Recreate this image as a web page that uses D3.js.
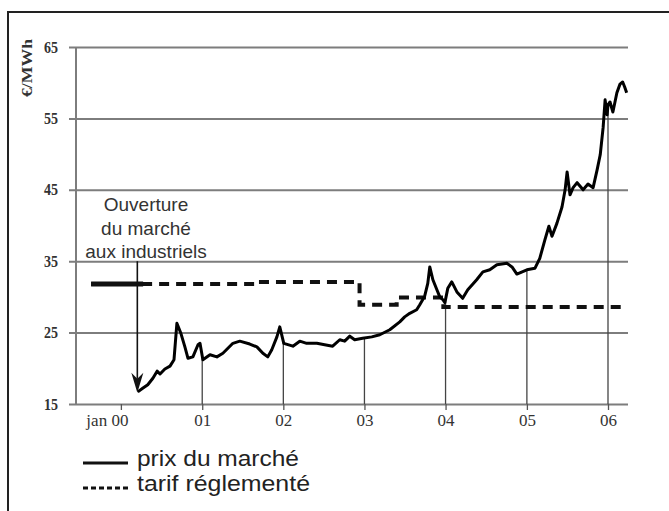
<!DOCTYPE html>
<html>
<head>
<meta charset="utf-8">
<script src="https://cdn.jsdelivr.net/npm/d3@7"></script>
<style>
  body { margin: 0; background: #fff; }
  svg { display: block; }
</style>
</head>
<body>
<script>
// prix du marché (€/MWh)
var priceDates = [
  "2000-03-17","2000-04-08","2000-05-01","2000-05-24","2000-06-12","2000-06-25","2000-07-17","2000-08-09",
  "2000-08-27","2000-09-09","2000-09-27","2000-10-15","2000-10-29","2000-11-20","2000-12-13","2000-12-22",
  "2001-01-04","2001-02-05","2001-03-08","2001-04-04","2001-05-19","2001-06-19","2001-08-03","2001-09-04",
  "2001-10-01","2001-10-23","2001-11-10","2001-12-03","2001-12-16","2002-01-03","2002-02-13","2002-03-16",
  "2002-04-16","2002-06-01","2002-07-06","2002-08-11","2002-09-12","2002-10-04","2002-10-27","2002-11-18",
  "2002-12-24","2003-02-03","2003-03-11","2003-04-25","2003-06-09","2003-07-01","2003-07-24","2003-08-24",
  "2003-09-07","2003-09-29","2003-10-13","2003-10-22","2003-11-05","2003-11-23","2003-12-06","2003-12-20",
  "2003-12-29","2004-01-11","2004-01-29","2004-02-21","2004-03-18","2004-04-10","2004-05-20","2004-06-17",
  "2004-07-18","2004-08-19","2004-10-03","2004-10-26","2004-11-17","2005-01-01","2005-02-06","2005-02-28",
  "2005-03-23","2005-04-10","2005-04-24","2005-05-16","2005-06-08","2005-06-22","2005-07-01","2005-07-14",
  "2005-07-28","2005-08-15","2005-09-11","2005-10-03","2005-10-26","2005-11-13","2005-11-27","2005-12-10",
  "2005-12-19","2005-12-28","2006-01-01","2006-01-10","2006-01-23","2006-02-10","2006-02-24","2006-03-08",
  "2006-03-17","2006-03-26"
];
var priceValues = [
  16.7, 17.2, 17.7, 18.6, 19.6, 19.2, 19.9, 20.3,
  21.2, 26.3, 24.9, 23.0, 21.4, 21.6, 23.3, 23.5,
  21.2, 21.9, 21.6, 22.1, 23.5, 23.8, 23.4, 23.0,
  22.1, 21.6, 22.6, 24.4, 25.8, 23.5, 23.1, 23.8,
  23.5, 23.5, 23.3, 23.1, 24.0, 23.8, 24.5, 24.0,
  24.2, 24.4, 24.7, 25.4, 26.5, 27.2, 27.7, 28.2,
  28.9, 30.1, 31.9, 34.2, 32.4, 31.0, 30.0, 29.6,
  29.2, 31.2, 32.1, 30.7, 29.8, 31.0, 32.4, 33.5,
  33.8, 34.5, 34.7, 34.2, 33.2, 33.8, 34.0, 35.4,
  38.0, 39.9, 38.5, 40.3, 42.6, 45.0, 47.5, 44.3,
  45.3, 46.0, 45.0, 45.8, 45.3, 47.8, 49.9, 53.7,
  57.6, 55.5, 56.9, 57.3, 55.9, 58.6, 59.8, 60.1,
  59.4, 58.6
];

// tarif réglementé (step)
var tariffDates = ["1999-08-20","2001-09-08","2002-12-10","2003-05-26","2003-12-22","2006-03-30"];
var tariffValues = [31.8, 32.1, 28.9, 29.9, 28.6, 28.6];

var yTicks = [15, 25, 35, 45, 55, 65];
var xTickDates = ["2000-01-01","2001-01-01","2002-01-01","2003-01-01","2004-01-01","2005-01-01","2006-01-01"];
var xTickLabels = ["jan 00", "01", "02", "03", "04", "05", "06"];
var legendLabels = ["prix du marché", "tarif réglementé"];
var legendWidths = [162, 173];
var annotationLines = ["Ouverture", "du marché", "aux industriels"];
var openingDate = "2000-03-15";

var parse = d3.timeParse("%Y-%m-%d");

var price = priceDates.map(function(d, i) { return { date: parse(d), v: priceValues[i] }; });
var tariff = tariffDates.map(function(d, i) { return { date: parse(d), v: tariffValues[i] }; });

var svg = d3.select("body").append("svg")
    .attr("width", 669)
    .attr("height", 511);

svg.append("rect").attr("width", 669).attr("height", 511).attr("fill", "#fff");

// frame (cropped on the right and bottom)
svg.append("path")
    .attr("d", "M8,511V12H669")
    .attr("fill", "none")
    .attr("stroke", "#222")
    .attr("stroke-width", 2);

var x = d3.scaleTime()
    .domain([parse("1999-06-13"), parse("2006-04-01")])
    .range([76, 628]);

var y = d3.scaleLinear()
    .domain([15, 65])
    .range([404, 47]);

// horizontal grid + y labels
var yAxis = svg.append("g")
    .attr("transform", "translate(69,0)")
    .call(d3.axisLeft(y).tickValues(yTicks).tickSize(-(628 - 69)).tickPadding(11));
yAxis.select(".domain").remove();
yAxis.selectAll(".tick line")
    .attr("stroke", "#7d7d7d")
    .attr("stroke-width", 2);
yAxis.selectAll(".tick text")
    .attr("font-family", "Liberation Serif, serif")
    .attr("font-size", 16)
    .attr("font-weight", "bold")
    .attr("fill", "#333")
    .attr("textLength", 14)
    .attr("lengthAdjust", "spacingAndGlyphs");

// vertical axis line
svg.append("line")
    .attr("x1", 76).attr("x2", 76)
    .attr("y1", y(65)).attr("y2", y(15))
    .attr("stroke", "#7d7d7d")
    .attr("stroke-width", 2);

svg.append("text")
    .attr("transform", "translate(32,68) rotate(-90)")
    .attr("text-anchor", "middle")
    .attr("font-family", "Liberation Serif, serif")
    .attr("font-weight", "bold")
    .attr("font-size", 14)
    .attr("fill", "#333")
    .attr("textLength", 58)
    .attr("lengthAdjust", "spacingAndGlyphs")
    .text("€/MWh");

// x axis
var xAxis = svg.append("g")
    .attr("transform", "translate(0," + y(15) + ")")
    .call(d3.axisBottom(x)
        .tickValues(xTickDates.map(parse))
        .tickSize(6)
        .tickPadding(4)
        .tickFormat(function(d, i) { return xTickLabels[i]; }));
xAxis.select(".domain").remove();
xAxis.selectAll(".tick line")
    .attr("stroke", "#555")
    .attr("stroke-width", 1.3);
xAxis.selectAll(".tick text")
    .attr("font-family", "Liberation Serif, serif")
    .attr("font-size", 17)
    .attr("fill", "#333")
    .attr("dx", function(d, i) { return i === 0 ? -14 : 0; });

function priceAt(date) {
  var i = d3.bisector(function(d) { return d.date; }).left(price, date);
  if (i <= 0) return price[0].v;
  if (i >= price.length) return price[price.length - 1].v;
  var a = price[i - 1], b = price[i];
  var t = (date - a.date) / (b.date - a.date);
  return a.v + t * (b.v - a.v);
}

// drop lines from the price curve to each year
svg.append("g")
    .selectAll("line")
    .data(xTickDates.slice(1).map(parse))
    .enter().append("line")
      .attr("x1", function(d) { return x(d); })
      .attr("x2", function(d) { return x(d); })
      .attr("y1", y(15))
      .attr("y2", function(d) { return y(priceAt(d)); })
      .attr("stroke", "#444")
      .attr("stroke-width", 1.3);

// tariff
var tariffLine = d3.line()
    .curve(d3.curveStepAfter)
    .x(function(d) { return x(d.date); })
    .y(function(d) { return y(d.v); });

svg.append("path")
    .datum(tariff)
    .attr("d", tariffLine)
    .attr("fill", "none")
    .attr("stroke", "#111")
    .attr("stroke-width", 4)
    .attr("stroke-dasharray", "10,7");

svg.append("line")
    .attr("x1", x(parse(tariffDates[0]))).attr("x2", x(parse("2000-04-10")))
    .attr("y1", y(tariffValues[0])).attr("y2", y(tariffValues[0]))
    .attr("stroke", "#111")
    .attr("stroke-width", 5);

// market price
var priceLine = d3.line()
    .x(function(d) { return x(d.date); })
    .y(function(d) { return y(d.v); });

svg.append("path")
    .datum(price)
    .attr("d", priceLine)
    .attr("fill", "none")
    .attr("stroke", "#000")
    .attr("stroke-width", 3)
    .attr("stroke-linejoin", "round");

// opening arrow
var ax = x(parse(openingDate)),
    tipY = y(priceAt(parse(openingDate))) + 1;
svg.append("line")
    .attr("x1", ax).attr("x2", ax)
    .attr("y1", y(35)).attr("y2", tipY - 14)
    .attr("stroke", "#111")
    .attr("stroke-width", 1.6);
svg.append("path")
    .attr("d", "M" + (ax - 6) + "," + (tipY - 20) + "L" + ax + "," + (tipY - 14) + "L" + (ax + 6) + "," + (tipY - 20) + "L" + ax + "," + tipY + "Z")
    .attr("fill", "#111");

svg.append("g")
    .selectAll("text")
    .data(annotationLines)
    .enter().append("text")
      .attr("x", 146)
      .attr("y", function(d, i) { return 211 + i * 23.5; })
      .attr("text-anchor", "middle")
      .attr("font-family", "Liberation Sans, Arial, sans-serif")
      .attr("font-size", 19)
      .attr("fill", "#333")
      .text(function(d) { return d; });

// legend
var legend = svg.append("g");
legend.append("line")
    .attr("x1", 83).attr("x2", 128)
    .attr("y1", 463).attr("y2", 463)
    .attr("stroke", "#111")
    .attr("stroke-width", 3);
legend.append("line")
    .attr("x1", 83).attr("x2", 128)
    .attr("y1", 488).attr("y2", 488)
    .attr("stroke", "#111")
    .attr("stroke-width", 3)
    .attr("stroke-dasharray", "5,3");
legend.selectAll("text")
    .data(legendLabels)
    .enter().append("text")
      .attr("x", 137)
      .attr("y", function(d, i) { return 466 + i * 25; })
      .attr("font-family", "Liberation Sans, Arial, sans-serif")
      .attr("font-size", 21.5)
      .attr("fill", "#222")
      .attr("textLength", function(d, i) { return legendWidths[i]; })
      .attr("lengthAdjust", "spacingAndGlyphs")
      .text(function(d) { return d; });
</script>
</body>
</html>
